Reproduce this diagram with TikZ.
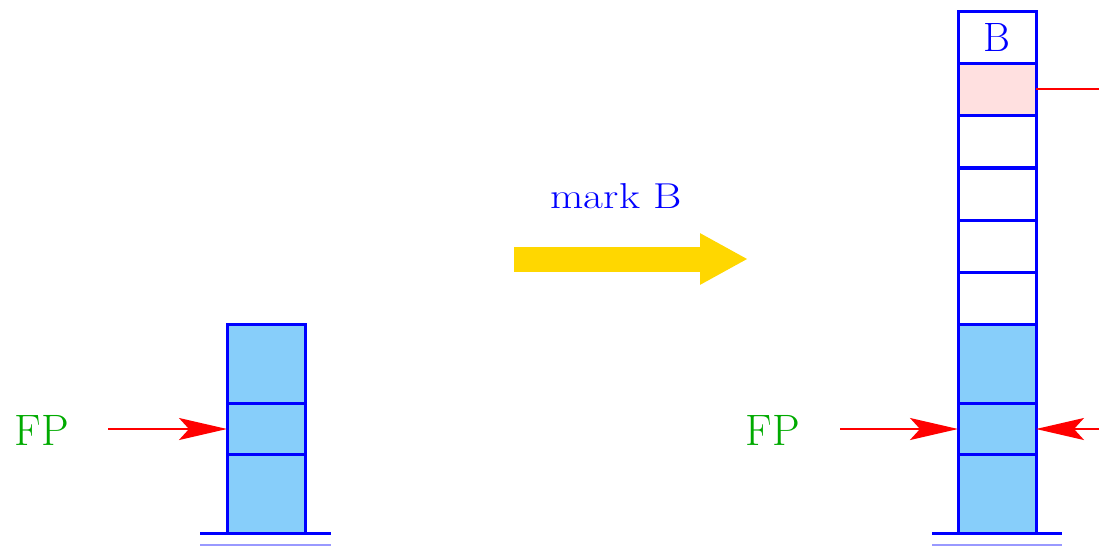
\documentclass[tikz,border=0pt]{standalone}
\usepackage{fontspec}
\setmainfont{Latin Modern Roman}
\newfontfamily\widefont[FakeStretch=1.2]{Latin Modern Roman}
\usetikzlibrary{arrows.meta}
\definecolor{cellblue}{RGB}{135,206,250}
\definecolor{cellpink}{RGB}{255,224,224}
\definecolor{fpgreen}{RGB}{0,170,0}
\definecolor{gold}{RGB}{255,215,0}
\begin{document}
\begin{tikzpicture}[x=1pt,y=-1pt,
  cell/.style={draw=blue, line width=3pt, minimum width=78pt, inner sep=0pt, outer sep=0pt},
  tall/.style={cell, minimum height=79pt, fill=cellblue},
  short/.style={cell, minimum height=52pt},
  base/.style={draw=blue, line width=3pt},
  baselight/.style={draw=blue!40, line width=2pt},
  ptr/.style={draw=red, line width=2.2pt, -{Stealth[length=48pt,width=22pt,inset=10pt]}},
  fplabel/.style={text=fpgreen, font=\fontsize{44}{52}\selectfont, inner sep=0pt},
]
\useasboundingbox (0,0) rectangle (1099,546);
% left stack
\node[tall] (l1) at (266,363.5) {};
\node[short, fill=cellblue] (l2) at (266,429) {};
\node[tall] (l3) at (266,494) {};
\coordinate (lb1) at (200,533); \coordinate (lb2) at (331,533);
\coordinate (lc1) at (200,545); \coordinate (lc2) at (331,545);
\draw[base] (lb1) -- (lb2);
\draw[baselight] (lc1) -- (lc2);
\node[fplabel] (fpl) at (42,430) {FP};
\coordinate (fpla) at (108,429);
\draw[ptr] (fpla) -- (l2.west);
% transition arrow
\node[text=blue, font=\widefont\fontsize{36}{43}\selectfont, inner sep=0pt] (mark) at (616,196) {mark B};
\coordinate (ya) at (514,259); \coordinate (yb) at (748,259);
\draw[draw=gold, line width=25pt, -{Triangle[length=48pt,width=48pt]}] (ya) -- (yb);
% right stack
\node[short, fill=white, text=blue, font=\fontsize{41}{48}\selectfont] (r0) at (997,37) {B};
\node[short, fill=cellpink] (r1) at (997,89) {};
\node[short, fill=white] (r2) at (997,141.5) {};
\node[short, fill=white] (r3) at (997,194) {};
\node[short, fill=white] (r4) at (997,246) {};
\node[short, fill=white] (r5) at (997,298) {};
\node[tall] (r6) at (997,363.5) {};
\node[short, fill=cellblue] (r7) at (997,429) {};
\node[tall] (r8) at (997,494) {};
\coordinate (rb1) at (932,533); \coordinate (rb2) at (1062,533);
\coordinate (rc1) at (932,545); \coordinate (rc2) at (1062,545);
\draw[base] (rb1) -- (rb2);
\draw[baselight] (rc1) -- (rc2);
\node[fplabel] (fpr) at (773,430) {FP};
\coordinate (fpra) at (840,429);
\draw[ptr] (fpra) -- (r7.west);
\coordinate (rin) at (1099,429);
\draw[ptr] (rin) -- (r7.east);
\coordinate (rout) at (1099,89);
\draw[draw=red, line width=2.2pt] (r1.east) -- (rout);
\end{tikzpicture}
\end{document}
